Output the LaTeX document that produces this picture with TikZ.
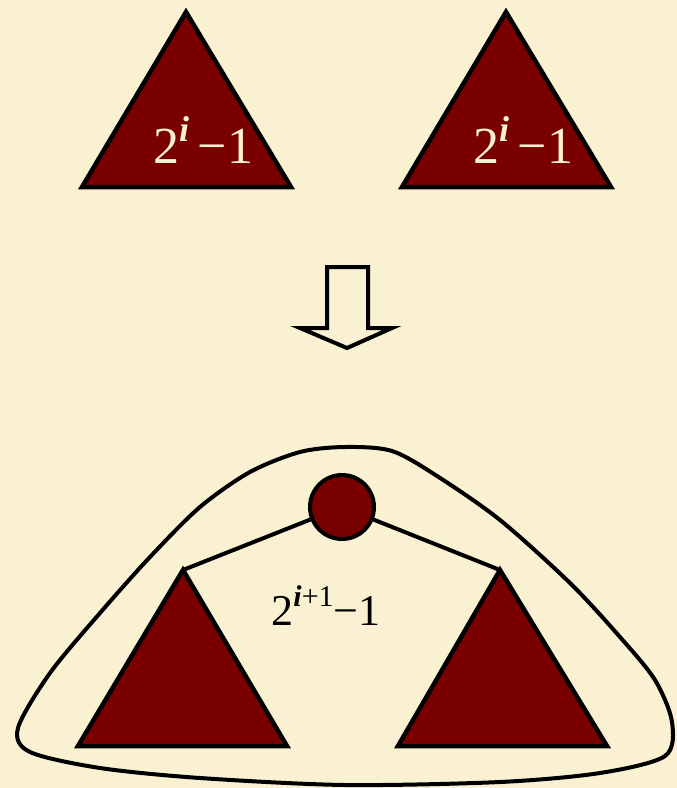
\documentclass[tikz,border=0pt]{standalone}
\usepackage{fontspec}
\setmainfont{Liberation Serif}
\definecolor{bg}{RGB}{250,240,210}
\definecolor{tri}{RGB}{122,0,0}
\newcommand{\lbl}[4]{{\fontsize{#1}{#1}\selectfont 2\raisebox{0.42em}{\fontsize{#2}{#2}\selectfont #3}#4−1}}
\begin{document}
\begin{tikzpicture}[x=1pt,y=-1pt,
  treetri/.style={draw=black,fill=tri,line width=4.5pt,line join=miter},
  edge/.style={draw=black,line width=4pt},
  lab/.style={inner sep=0pt,anchor=base}]
\fill[bg] (0,0) rectangle (677,788);
\useasboundingbox (0,0) rectangle (677,788);
% top triangles
\draw[treetri] (186,12) coordinate (ta1) -- (291,187) -- (82,187) -- cycle;
\draw[treetri] (506,12) coordinate (ta2) -- (611,187) -- (402,187) -- cycle;
\node[lab,text=bg] (t1) at (203,163) {\lbl{52}{36}{\textbf{\textit{i}}}{\,}};
\node[lab,text=bg] (t2) at (523,163) {\lbl{52}{36}{\textbf{\textit{i}}}{\,}};
% arrow
\draw[line width=4pt,fill=bg,line join=miter] (327,267) -- (368,267) -- (368,328) -- (392,328) -- (347,348) -- (300,328) -- (327,328) -- cycle;
% blob
\draw[line width=4pt] plot[smooth cycle,tension=0.5] coordinates {(345,447) (392,451) (437,476) (500,520) (570,583) (620,637) (655,680) (672,722) (665,756) (600,773) (500,782) (345,785) (200,778) (100,768) (30,752) (18,728) (50,673) (100,613) (150,557) (200,507) (250,472) (300,452)};
% root and subtrees
\node[circle,draw=black,fill=tri,line width=4pt,minimum size=64pt,inner sep=0pt] (root) at (342,507) {};
\coordinate (la) at (183,570);
\coordinate (ra) at (500,570);
\draw[edge] (root) -- (la);
\draw[edge] (root) -- (ra);
\draw[treetri] (la) -- (287,746) -- (78,746) -- cycle;
\draw[treetri] (ra) -- (607,746) -- (398,746) -- cycle;
\node[lab,text=black] (t3) at (326,625) {\lbl{44}{30}{\textbf{\textit{i}}+1}{}};
\end{tikzpicture}
\end{document}
